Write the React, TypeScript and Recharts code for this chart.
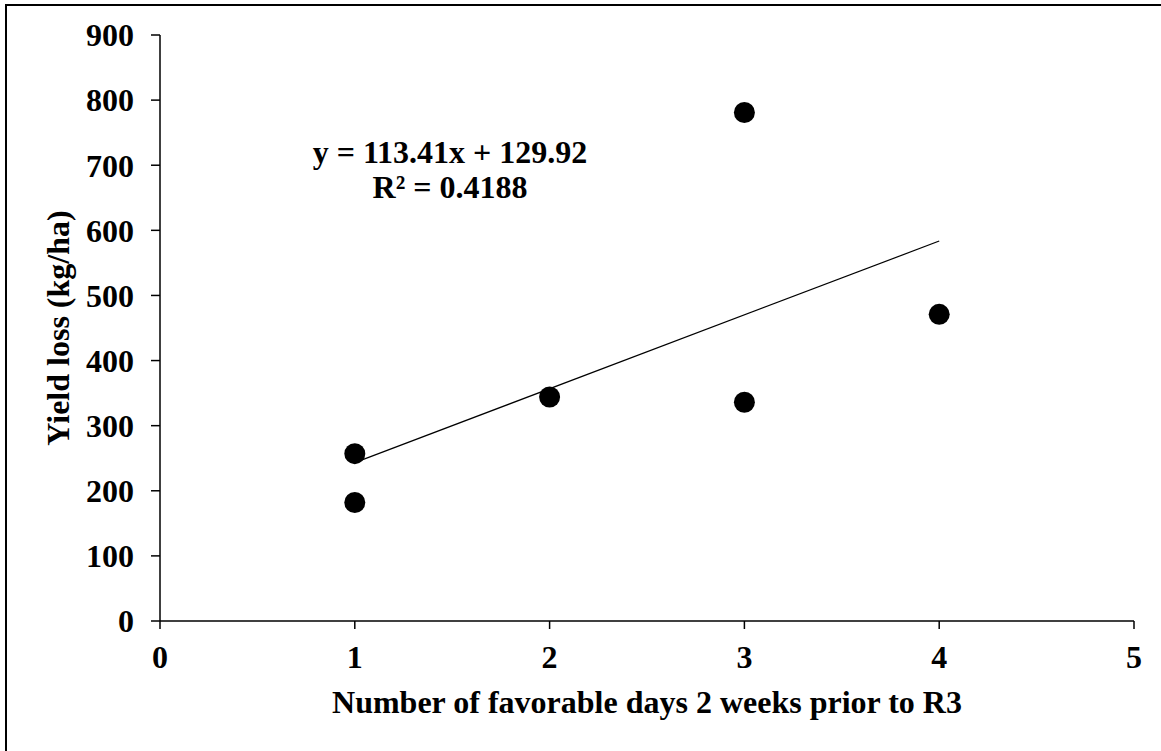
import { ReferenceLine, Scatter, ScatterChart, XAxis, YAxis } from "recharts";

const favorableDays = [1, 1, 2, 3, 3, 4];
const yieldLoss = [182, 257, 344, 336, 781, 471];
const xTicks = [0, 1, 2, 3, 4, 5];
const yTicks = [0, 100, 200, 300, 400, 500, 600, 700, 800, 900];

const slope = 113.41;
const intercept = 129.92;
const trendRange = [1, 4];

const points = favorableDays.map((x, i) => ({ x, y: yieldLoss[i] }));

const font = "'Liberation Serif', 'Times New Roman', serif";
const tickStyle = { fontSize: 32, fontWeight: 700, fill: "#000", fontFamily: font };

const Dot = (props: any) => <circle cx={props.cx} cy={props.cy} r={10.5} fill="#000" />;

export default function App() {
  return (
    <div style={{ position: "absolute", left: 0, top: 0, width: 1161, height: 751, background: "#fff" }}>
      <div
        style={{
          position: "absolute",
          left: 5,
          top: 4,
          right: 0,
          bottom: 0,
          borderTop: "2px solid #000",
          borderLeft: "2px solid #000",
        }}
      />
      <ScatterChart width={1161} height={751} margin={{ top: 35, right: 27, bottom: 0, left: 0 }}>
        <XAxis
          type="number"
          dataKey="x"
          domain={[0, 5]}
          ticks={xTicks}
          tick={tickStyle}
          tickSize={8}
          tickMargin={16}
          axisLine={{ stroke: "#000", strokeWidth: 1.5 }}
          tickLine={{ stroke: "#000", strokeWidth: 1.5 }}
          height={130}
          label={{
            value: "Number of favorable days 2 weeks prior to R3",
            position: "insideBottom",
            offset: 38,
            style: { ...tickStyle, textAnchor: "middle" },
          }}
        />
        <YAxis
          type="number"
          dataKey="y"
          domain={[0, 900]}
          ticks={yTicks}
          tick={tickStyle}
          tickSize={9}
          tickMargin={17}
          axisLine={{ stroke: "#000", strokeWidth: 1.5 }}
          tickLine={{ stroke: "#000", strokeWidth: 1.5 }}
          width={160}
          label={{
            value: "Yield loss (kg/ha)",
            angle: -90,
            position: "insideLeft",
            offset: 58,
            style: { ...tickStyle, textAnchor: "middle" },
          }}
        />
        <ReferenceLine
          segment={[
            { x: trendRange[0], y: slope * trendRange[0] + intercept },
            { x: trendRange[1], y: slope * trendRange[1] + intercept },
          ]}
          stroke="#000"
          strokeWidth={1.2}
        />
        <Scatter data={points} shape={Dot} isAnimationActive={false} />
      </ScatterChart>
      <div
        style={{
          position: "absolute",
          left: 300,
          top: 135,
          width: 300,
          textAlign: "center",
          fontFamily: font,
          fontWeight: 700,
          fontSize: 32,
          lineHeight: "35px",
          color: "#000",
        }}
      >
        <div>y = 113.41x + 129.92</div>
        <div>R² = 0.4188</div>
      </div>
    </div>
  );
}
